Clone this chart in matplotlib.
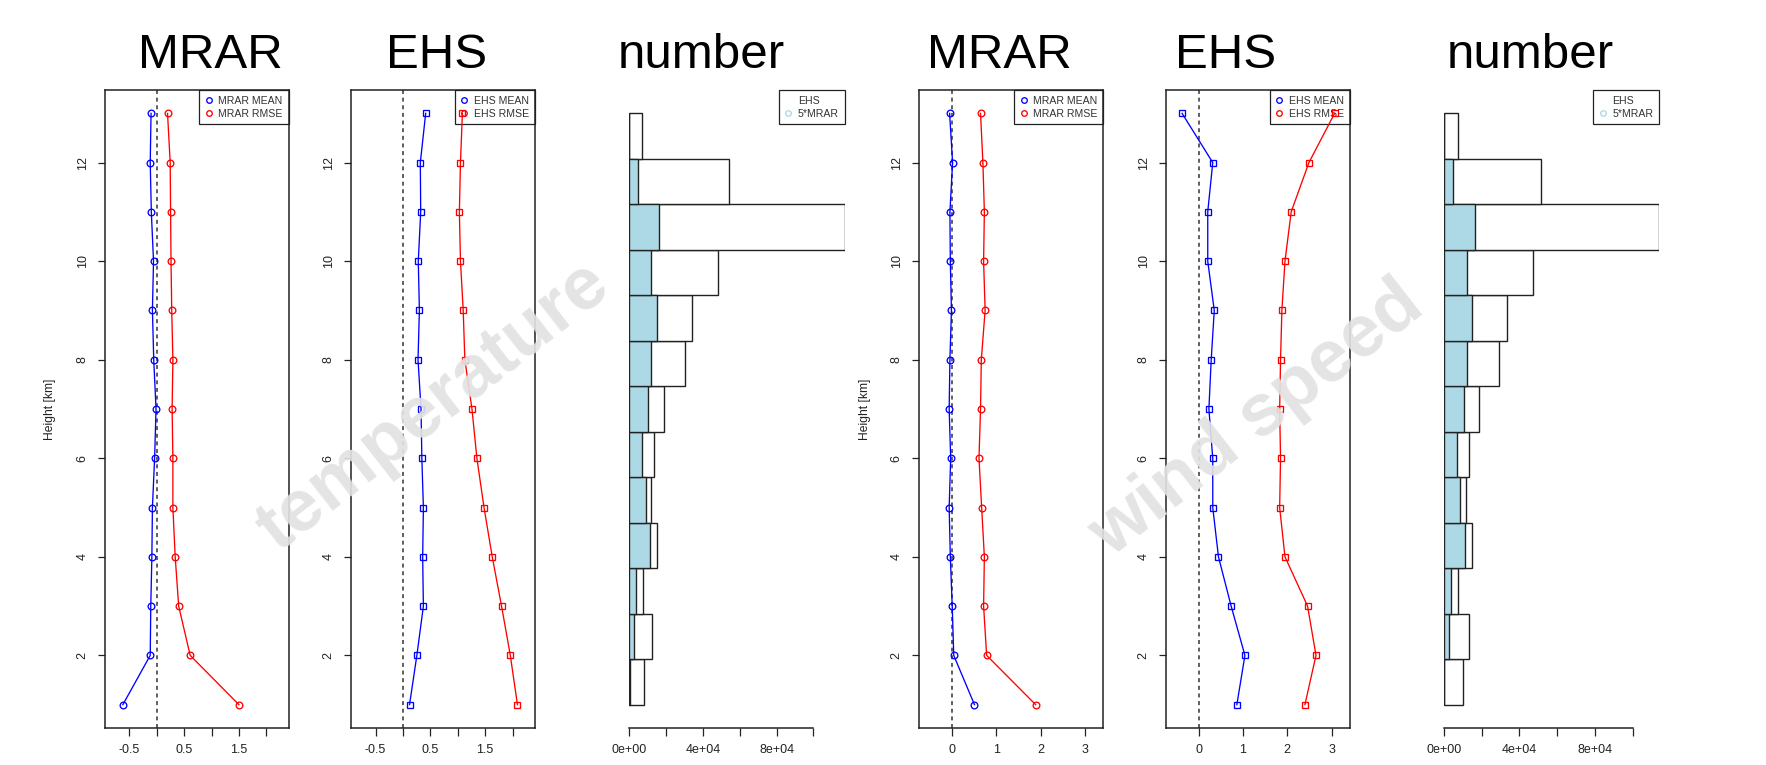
import matplotlib
matplotlib.use("Agg")
import matplotlib.pyplot as plt
from matplotlib.lines import Line2D
import numpy as np

plt.rcParams['font.family'] = ['Liberation Sans', 'DejaVu Sans']

# ---------------- data (heights 1..13 km) ----------------
heights = [1, 2, 3, 4, 5, 6, 7, 8, 9, 10, 11, 12, 13]

temp_mrar_mean = [-0.62, -0.12, -0.11, -0.09, -0.08, -0.04, -0.014, -0.056, -0.08, -0.06, -0.10, -0.12, -0.105]
temp_mrar_rmse = [1.50, 0.61, 0.40, 0.336, 0.294, 0.294, 0.28, 0.294, 0.273, 0.26, 0.252, 0.245, 0.196]
temp_ehs_mean = [0.12, 0.254, 0.373, 0.36, 0.373, 0.345, 0.33, 0.275, 0.30, 0.28, 0.324, 0.317, 0.415]
temp_ehs_rmse = [2.09, 1.96, 1.80, 1.63, 1.48, 1.35, 1.26, 1.13, 1.10, 1.05, 1.03, 1.05, 1.085]
temp_ehs_count = [8150, 12500, 7400, 14900, 11800, 13400, 19000, 30400, 34200, 48000, 117000, 54200, 6900]
temp_mrar_count5 = [300, 2500, 3600, 11100, 8900, 7100, 10300, 12000, 14900, 12000, 16300, 4900, 0]

wind_mrar_mean = [0.51, 0.043, 0.009, -0.034, -0.06, -0.026, -0.06, -0.043, -0.009, -0.034, -0.043, 0.017, -0.05]
wind_mrar_rmse = [1.888, 0.784, 0.716, 0.733, 0.672, 0.612, 0.647, 0.664, 0.75, 0.716, 0.733, 0.70, 0.647]
wind_ehs_mean = [0.864, 1.046, 0.735, 0.449, 0.32, 0.32, 0.233, 0.285, 0.354, 0.207, 0.207, 0.32, -0.372]
wind_ehs_rmse = [2.40, 2.65, 2.46, 1.95, 1.83, 1.85, 1.83, 1.85, 1.88, 1.95, 2.09, 2.49, 3.07]
wind_ehs_count = [10200, 13400, 7400, 14700, 11500, 13300, 18700, 29200, 33600, 47000, 114100, 51200, 7400]
wind_mrar_count5 = [200, 2800, 3900, 11100, 8700, 7100, 10800, 12200, 15000, 12200, 16600, 4900, 0]

titles = ["MRAR", "EHS", "number", "MRAR", "EHS", "number"]
watermarks = ["temperature", "wind speed"]
temp_xticks = [-0.5, 0, 0.5, 1, 1.5, 2]
temp_xticklabels = ["-0.5", "", "0.5", "", "1.5", ""]
wind_xticks = [0, 1, 2, 3]
wind_xticklabels = ["0", "1", "2", "3"]
count_xticks = [0, 20000, 40000, 60000, 80000, 100000]
count_xticklabels = ["0e+00", "", "4e+04", "", "8e+04", ""]
yticks = [2, 4, 6, 8, 10, 12]

# ---------------- figure ----------------
W, H = 1766, 765
fig = plt.figure(figsize=(W / 100, H / 100), dpi=100)

def px_axes(left, width):
    top, bottom = 89.7, 728.3
    return fig.add_axes([left / W, (H - bottom) / H, width / W, (bottom - top) / H])

TICK_FS = 9
LEG_FS = 7.6

def make_legend(ax, handles, labels):
    leg = ax.legend(handles, labels, loc='upper right', borderaxespad=0,
                    fontsize=LEG_FS, frameon=True, fancybox=False, framealpha=1,
                    edgecolor='#222222', handlelength=0.7, handletextpad=0.55,
                    borderpad=0.55, labelspacing=0.3)
    leg.get_frame().set_linewidth(0.9)
    leg.set_zorder(2.5)
    for t in leg.get_texts():
        t.set_color('#333333')
    return leg

def line_panel(ax, mean, rmse, marker, xlim, xticks, xticklabels, leg_labels):
    ax.axvline(0, color='#333333', lw=1.1, ls=(0, (2.6, 2.4)), zorder=1)
    ms = 4.8 if marker == 'o' else 4.6
    ax.plot(mean, heights, color='blue', lw=0.95, marker=marker, ms=ms,
            mfc='none', mec='blue', mew=0.95, zorder=3)
    ax.plot(rmse, heights, color='red', lw=0.95, marker=marker, ms=ms,
            mfc='none', mec='red', mew=0.95, zorder=3)
    ax.set_xlim(*xlim)
    ax.set_ylim(0.52, 13.48)
    ax.set_xticks(xticks)
    ax.set_xticklabels(xticklabels)
    ax.set_yticks(yticks)
    ax.set_yticklabels([str(v) for v in yticks])
    ax.tick_params(axis='both', direction='out', length=5.4, width=0.9,
                   labelsize=TICK_FS, colors='#222222')
    ax.tick_params(axis='x', pad=6)
    ax.tick_params(axis='y', pad=6.5)
    for lab in ax.get_yticklabels():
        lab.set_rotation(90)
        lab.set_va('center')
    for sp in ax.spines.values():
        sp.set_linewidth(1.1)
        sp.set_color('#222222')
        sp.set_zorder(4)
    handles = [Line2D([], [], ls='none', marker='o', ms=4.0, mfc='none', mec='blue', mew=0.95),
               Line2D([], [], ls='none', marker='o', ms=4.0, mfc='none', mec='red', mew=0.95)]
    make_legend(ax, handles, leg_labels)

def count_panel(ax, ehs, mrar5):
    ypos = [h - 0.5 for h in heights]
    ax.barh(ypos, ehs, height=1.0, color='white', edgecolor='#222222', lw=1.0, zorder=2)
    ax.barh(ypos, mrar5, height=1.0, color='lightblue', edgecolor='#222222', lw=1.0, zorder=3)
    ax.set_ylim(-0.52, 13.52)
    ax.set_xlim(0, max(ehs))
    ax.set_xticks(count_xticks)
    ax.set_xticklabels(count_xticklabels)
    ax.set_yticks([])
    for s in ['left', 'right', 'top']:
        ax.spines[s].set_visible(False)
    ax.spines['bottom'].set_bounds(count_xticks[0], count_xticks[-1])
    ax.spines['bottom'].set_linewidth(1.1)
    ax.spines['bottom'].set_color('#222222')
    ax.tick_params(axis='x', direction='out', length=5.4, width=0.9,
                   labelsize=TICK_FS, colors='#222222', pad=6)
    handles = [Line2D([], [], ls='none', marker='o', ms=4.0, mfc='none', mec='white', mew=0.95),
               Line2D([], [], ls='none', marker='o', ms=4.0, mfc='none', mec='lightblue', mew=0.95)]
    leg = make_legend(ax, handles, ["EHS", "5*MRAR"])
    leg.set_zorder(5)

ax1 = px_axes(105.2, 183.3)
line_panel(ax1, temp_mrar_mean, temp_mrar_rmse, 'o', (-0.943, 2.407),
           temp_xticks, temp_xticklabels, ["MRAR MEAN", "MRAR RMSE"])
ax2 = px_axes(351.3, 183.5)
line_panel(ax2, temp_ehs_mean, temp_ehs_rmse, 's', (-0.943, 2.407),
           temp_xticks, temp_xticklabels, ["EHS MEAN", "EHS RMSE"])
ax3 = px_axes(629.3, 215.4)
count_panel(ax3, temp_ehs_count, temp_mrar_count5)
ax4 = px_axes(919.3, 184.0)
line_panel(ax4, wind_mrar_mean, wind_mrar_rmse, 'o', (-0.733, 3.413),
           wind_xticks, wind_xticklabels, ["MRAR MEAN", "MRAR RMSE"])
ax5 = px_axes(1166.1, 183.7)
line_panel(ax5, wind_ehs_mean, wind_ehs_rmse, 's', (-0.733, 3.413),
           wind_xticks, wind_xticklabels, ["EHS MEAN", "EHS RMSE"])
ax6 = px_axes(1444.0, 215.3)
count_panel(ax6, wind_ehs_count, wind_mrar_count5)

# titles
title_x = [210.7, 436.9, 701.0, 999.5, 1226.0, 1530.3]
for t, x in zip(titles, title_x):
    fig.text(x / W, (H - 68.3) / H, t, ha='center', va='baseline', fontsize=35.5, color='black')

# y labels
for x in [50.3, 865.3]:
    fig.text(x / W, (H - 409) / H, "Height [km]", rotation=90, ha='center', va='center',
             fontsize=8.7, color='#222222')

# watermarks
for t, (x, y) in zip(watermarks, [(433, 407), (1257, 419)]):
    fig.text(x / W, (H - y) / H, t, rotation=38, ha='center', va='center',
             rotation_mode='anchor', fontsize=53, fontweight='bold',
             color='#e2e2e2', alpha=0.92, zorder=10)

fig.savefig("out.png", dpi=100)
